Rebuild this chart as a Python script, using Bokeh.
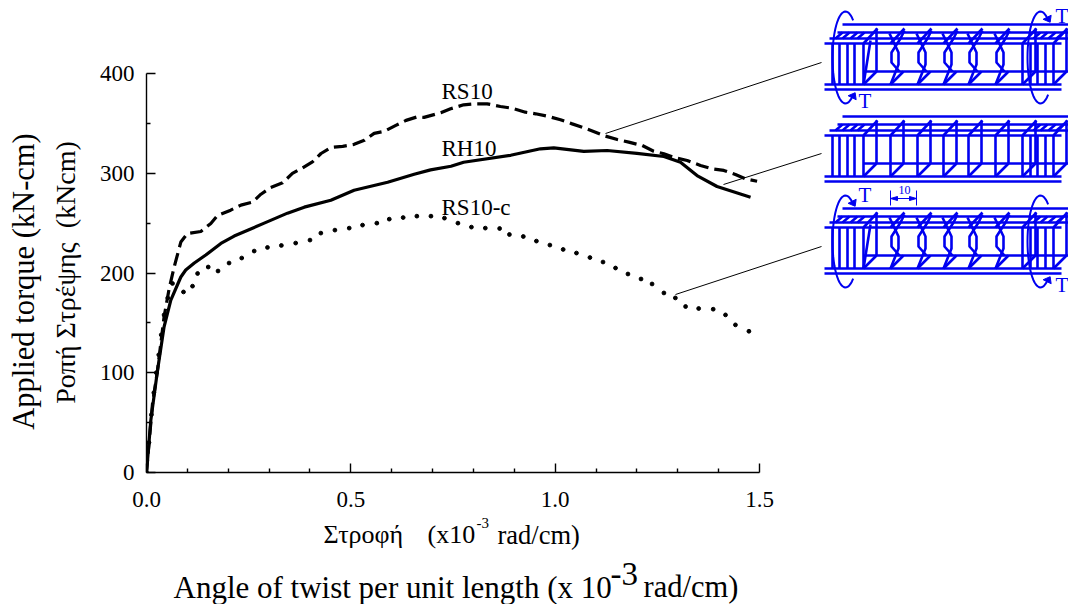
from bokeh.plotting import figure
from bokeh.models import Range1d, LinearAxis, FixedTicker, Label, CustomJSTickFormatter
from bokeh.embed import file_html
from bokeh.resources import INLINE
import math

rh10_x = [0,.0106,.027,.043,.0595,.084,.096,.117,.145,.182,.2145,.288,.345,.386,.451,.508,.59,.655,.695,.745,.776,.891,.964,.9966,1.07,1.127,1.2,1.266,1.3066,1.347,1.396,1.478]
rh10_y = [0,52.5,102.6,146,172.8,196,203,210,218,229.6,237,250,260,266,273,283,291,299,303.4,307,311,318,324.5,325.5,322,322.8,320,316.8,311,297.7,286.7,276]
rs10_x = [0,.0147,.027,.043,.0555,.0677,.084,.1,.133,.1574,.1737,.206,.231,.259,.28,.304,.333,.357,.382,.406,.427,.451,.48,.508,.533,.557,.582,.61,.635,.663,.679,.72,.744,.776,.805,.8336,.866,.895,.927,.952,.984,1.013,1.0416,1.066,1.0986,1.123,1.152,1.18,1.213,1.241,1.266,1.294,1.323,1.3555,1.384,1.4126,1.441,1.4656,1.494]
rs10_y = [0,69,102.6,156,184.5,206,231,239.6,241.6,249.6,257.6,263,268,271,279,285.7,290.4,299.8,305.4,311.4,319.8,325.8,327,329,333,340,342,348,353,356.6,356,360.6,364.6,368.6,369.6,369.6,366.9,365.2,361.2,359.6,356.9,353.6,349.5,346.2,341.2,337.2,333.8,331.2,327.8,322.1,319.5,315.5,312.8,307.8,304.4,302.8,298.7,294.4,292]
rsc_x = [0,.006,.012,.018,.024,.03,.036,.043,.052,.0636,.0905,.1126,.125,.151,.175,.202,.233,.2635,.296,.33,.365,.4,.4266,.461,.496,.5286,.5636,.594,.628,.6615,.696,.729,.762,.795,.829,.864,.888,.922,.954,.987,1.0195,1.052,1.085,1.117,1.1476,1.178,1.21,1.237,1.266,1.294,1.319,1.351,1.3866,1.4167,1.441,1.474]
rsc_y = [0,30,58,80,100,118,138,158,175,189.5,181,186.8,199.5,206,202,210,215,222,225.6,227.6,230,233,240,243,245,248,250,254,255.6,257,257,255,250,246,245,244.6,238.6,236.6,232,228,223.6,220,215.5,211,205,199,194,189,180,175,166.4,164.4,163.7,158,148,141.6]
x_major = [0,.5,1.0,1.5]
x_minor = [.1,.2,.3,.4,.6,.7,.8,.9,1.1,1.2,1.3,1.4]
y_major = [0,100,200,300,400]
y_minor = [50,150,250,350]
series_labels = ["RS10","RH10","RS10-c"]
SERIF = "Liberation Serif"
BLUE = "#0000f0"

p = figure(width=1068, height=604, output_backend="svg", toolbar_location=None,
           x_range=Range1d(0,922/408.7), y_range=Range1d(0,472/.9975),
           x_axis_type=None, y_axis_type=None, outline_line_color=None,
           frame_width=922, frame_height=472,
           min_border_left=146, min_border_right=0, min_border_top=0, min_border_bottom=132)
p.grid.visible = False
p.extra_x_ranges = {"px": Range1d(146,1068)}
p.extra_y_ranges = {"px": Range1d(472,0)}

xa = LinearAxis(ticker=FixedTicker(ticks=x_major, minor_ticks=x_minor), bounds=(0,1.5))
ya = LinearAxis(ticker=FixedTicker(ticks=y_major, minor_ticks=y_minor), bounds=(0,400))
for a in (xa, ya):
    a.major_tick_in, a.major_tick_out = 9, 0
    a.minor_tick_in, a.minor_tick_out = 4, 0
    a.axis_line_width = a.major_tick_line_width = a.minor_tick_line_width = 1.4
    a.major_label_text_font = SERIF
    a.major_label_text_font_size = "23px"
    a.major_label_text_color = "black"
xa.major_label_standoff = 19
xa.formatter = CustomJSTickFormatter(code="return tick.toFixed(1)")
ya.major_label_standoff = 12
p.add_layout(xa, "below")
p.add_layout(ya, "left")

p.line(rh10_x, rh10_y, line_color="black", line_width=3.2)
p.line(rs10_x, rs10_y, line_color="black", line_width=3.2, line_dash="13 6")
p.scatter(rsc_x, rsc_y, marker="circle", size=3.8, color="black")

def label(txt, x, y, size, vertical=False, color="black", align="left", side=None):
    # x, y give the text baseline; "middle" needs the centre line
    shift = 0.3*size
    cx, cy = (x-shift, y) if vertical else (x, y-shift)
    l = Label(x=cx, y=cy, x_range_name="px", y_range_name="px", text=txt,
              text_font=SERIF, text_font_size=f"{size}px", text_color=color,
              angle=math.pi/2 if vertical else 0, text_align=align, text_baseline="middle")
    if side: p.add_layout(l, side)
    else: p.add_layout(l)

for t, py in zip(series_labels, [98,155,214]):
    label(t, 441, py, 23)
label("Applied torque (kN-cm)", 33, 281, 30.5, vertical=True, align="center", side="left")
label("Ροπή Στρέψης\u00a0\u00a0(kNcm)", 73, 272, 28, vertical=True, align="center", side="left")
label("Στροφή", 323, 542, 26, side="below")
label("(x10", 427, 542, 26, side="below")
label("-3", 476, 527, 15, side="below")
label("rad/cm)", 497, 542, 26.5, side="below")
label("Angle of twist per unit length (x 10", 173, 596, 31, side="below")
label("-3", 610, 583, 33, side="below")
label("rad/cm)", 643, 596, 30.5, side="below")

lead_x = [[605,821],[723,821],[675,821]]
lead_y = [[133,62],[184,153],[294,246]]
p.multi_line(lead_x, lead_y, x_range_name="px", y_range_name="px", line_color="black", line_width=1)

def cage(dy, crossed):
    xs, ys = [], []
    def seg(a, b, c, d):
        xs.append([a,c]); ys.append([b+dy,d+dy])
    seg(842,24,1070,24); seg(837,32,1070,32); seg(829,38,1070,38)
    seg(824,43,1061,43); seg(824,84,1061,84); seg(824,89,1061,89); seg(863,71,1070,71)
    for x in [832,839,847,854,1030,1037,1045]:
        seg(x,43,x,84)
    for x in [832,839,847,854,1030,1037,1045,1053]:
        seg(x+3,38,x+10,32)
    for x in [863,890,917,943,968,995,1022,1053]:
        seg(x,84,x+13,71)
        seg(x,43,x+14,28)
        if crossed and 863 < x < 1022:
            xs.append([x,x+8,x+8,x-1]); ys.append([84+dy,64+dy,52+dy,33+dy])
            xs.append([x+9,x+1,x+1,x+10,x+14]); ys.append([71+dy,62+dy,52+dy,38+dy,30+dy])
        elif crossed and x == 863:
            seg(x,84,x+7,40); seg(x,43,x,84); seg(x+13,28,x+13,71)
        else:
            seg(x,43,x,84); seg(x+13,28,x+13,71)
    p.multi_line(xs, ys, x_range_name="px", y_range_name="px", line_color=BLUE, line_width=2.6)

for dy, crossed in zip([0,92,184],[True,False,True]):
    cage(dy, crossed)

def torque(cx, cy, rx, ry, arrow_top):
    ts = [0.30*math.pi + i*(1.4*math.pi)/40 for i in range(41)]
    ax = [cx + rx*math.cos(t) for t in ts]
    ay = [cy - ry*math.sin(t) for t in ts]
    p.line(ax, ay, x_range_name="px", y_range_name="px", line_color=BLUE, line_width=2)
    tipx, tipy = (ax[0], ay[0]) if arrow_top else (ax[-1], ay[-1])
    d = 1 if arrow_top else -1
    p.patch([tipx+2, tipx-5, tipx+3], [tipy+d*2, tipy-d*1, tipy-d*5], x_range_name="px", y_range_name="px", color=BLUE)

torque(845,57,13,46,False); torque(1040,57,13,46,True)
torque(845,241,13,46,True); torque(1040,241,13,46,False)
for px, py in [(858,107),(1055,22),(858,201),(1055,291)]:
    label("T", px, py, 21, color=BLUE)
p.multi_line([[890,890],[916,916],[890,916]], [[190,205],[190,205],[198,198]], x_range_name="px", y_range_name="px", line_color=BLUE, line_width=1)
p.patches([[890,897,897],[916,909,909]], [[198,196,200],[198,196,200]], x_range_name="px", y_range_name="px", color=BLUE)
label("10", 904, 193, 12, color=BLUE, align="center")

open("out.html","w").write(file_html(p, INLINE))
